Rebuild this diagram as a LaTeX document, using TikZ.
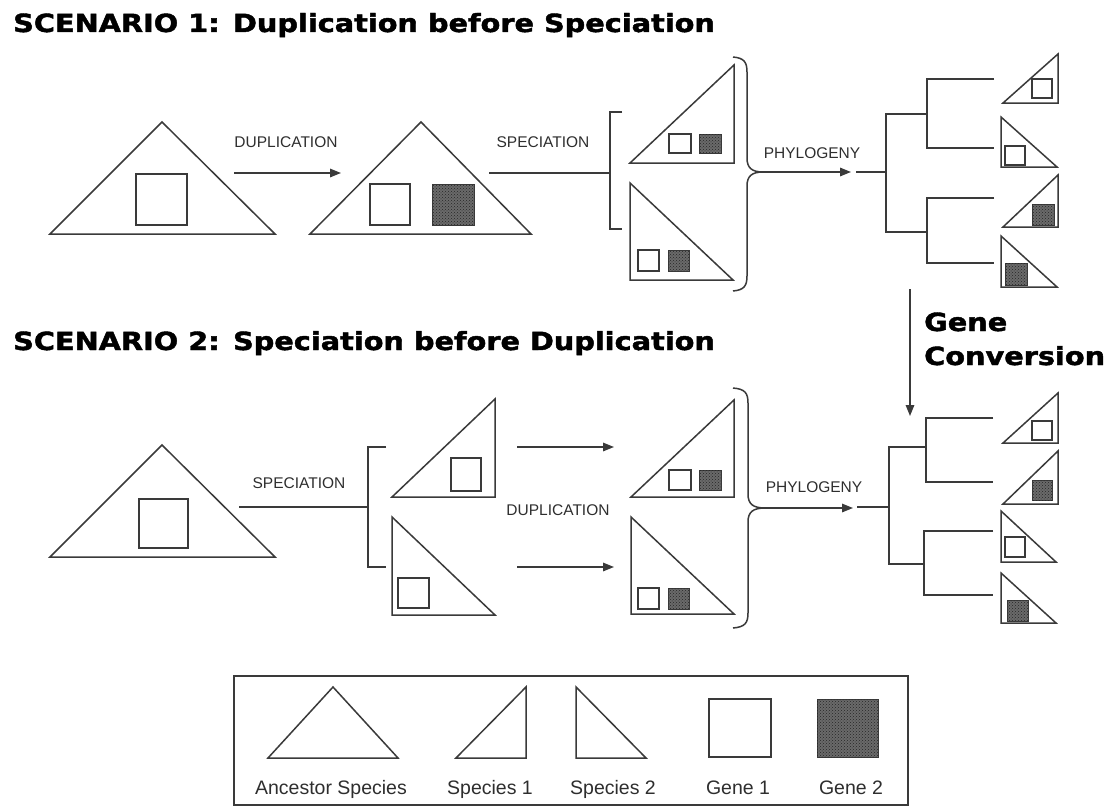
\documentclass[tikz,border=0pt]{standalone}
\usepackage{fontspec}
\setmainfont{Liberation Sans}
\newfontfamily\heavyfont{DejaVu Sans}[BoldFeatures={FakeBold=1.6}]
\usepackage{graphicx}
\usetikzlibrary{arrows.meta,patterns}
\definecolor{inkline}{HTML}{3A3A3A}
\definecolor{inktext}{HTML}{2E2E2E}
\definecolor{genefill}{HTML}{6A6A6A}
\tikzset{
  outline/.style={draw=inkline, line width=1.5pt, line join=miter},
  geneone/.style={draw=inkline, line width=1.3pt, fill=white},
  genetwo/.style={draw=inkline, line width=0.8pt, fill=genefill,
    postaction={pattern=crosshatch dots, pattern color=black!85}},
  link/.style={draw=inkline, line width=1.5pt},
  flow/.style={link, -{Triangle[length=11pt,width=8.5pt]}},
  steplabel/.style={font=\fontsize{15.5}{18}\selectfont, text=inktext, inner sep=0pt},
  keylabel/.style={font=\fontsize{19.5}{22}\selectfont, text=inktext, inner sep=0pt, anchor=base},
  heading/.style={inner sep=0pt, anchor=base west},
}
\newcommand{\headtext}[1]{\scalebox{1.15}[1]{\heavyfont\bfseries\fontsize{25}{30}\selectfont #1}}
\begin{document}
\begin{tikzpicture}[x=1pt,y=-1pt]
\useasboundingbox (0,0) rectangle (1114,808);
\fill[white] (0,0) rectangle (1114,808);

% ---------------- headings ----------------
\node[heading] (head1) at (13,32) {\headtext{SCENARIO 1: Duplication before Speciation}};
\node[heading] (head2) at (13,350) {\headtext{SCENARIO 2: Speciation before Duplication}};
\node[heading] (gc1) at (924,331) {\headtext{Gene}};
\node[heading] (gc2) at (924,365) {\headtext{Conversion}};

% ================= Scenario 1 =================
% ancestor species with one gene
\draw[outline] (50,234) -- (275,234) -- (162,122) -- cycle;
\draw[geneone] (136,174) rectangle (187,225);
\coordinate (a1out) at (234,173);
\coordinate (d1in) at (341,173);
\draw[flow] (a1out) -- (d1in);
\node[steplabel] (lab1) at (286,142) {DUPLICATION};

% ancestor after duplication
\draw[outline] (310,234) -- (531,234) -- (421,122) -- cycle;
\draw[geneone] (370,184) rectangle (410,225);
\draw[genetwo] (432,184) rectangle (474,225);
\coordinate (d1out) at (489,173);
\coordinate (br1) at (610,173);
\draw[link] (d1out) -- (br1);
\draw[link] (622,112) -- (610,112) -- (610,229) -- (622,229);
\node[steplabel] (lab2) at (543,142) {SPECIATION};

% species 1 and species 2, both carrying two genes
\draw[outline] (630,163) -- (734,163) -- (734,65) -- cycle;
\draw[geneone] (669,134) rectangle (691,153);
\draw[genetwo] (699,134) rectangle (721,153);
\draw[outline] (630,183) -- (630,280) -- (733,280) -- cycle;
\draw[geneone] (638,250) rectangle (659,271);
\draw[genetwo] (668,250) rectangle (689,271);

% curly brace and phylogeny arrow
\coordinate (tip1) at (763,172);
\draw[link] (733,57) .. controls (744,58) and (747,62) .. (747,72) -- (747,158)
  .. controls (747,168) and (752,172) .. (tip1)
  .. controls (752,172) and (747,176) .. (747,186) -- (747,276)
  .. controls (747,286) and (744,290) .. (733,291);
\coordinate (p1end) at (851,172);
\draw[flow] (tip1) -- (p1end);
\node[steplabel] (lab3) at (812,153) {PHYLOGENY};

% gene tree of scenario 1
\coordinate (root1in) at (856,172);
\coordinate (root1) at (886,172);
\draw[link] (root1in) -- (root1);
\draw[link] (927,114) -- (886,114) -- (886,232) -- (927,232);
\draw[link] (994,79) -- (927,79) -- (927,148) -- (994,148);
\draw[link] (994,198) -- (927,198) -- (927,263) -- (994,263);

% leaves of scenario 1
\draw[outline] (1003,103) -- (1058,103) -- (1058,54) -- cycle;
\draw[geneone] (1032,79) rectangle (1052,98);
\draw[outline] (1001,117) -- (1001,167) -- (1057,167) -- cycle;
\draw[geneone] (1005,146) rectangle (1025,165);
\draw[outline] (1003,227) -- (1058,227) -- (1058,175) -- cycle;
\draw[genetwo] (1032,204) rectangle (1054,225);
\draw[outline] (1001,236) -- (1001,287) -- (1057,287) -- cycle;
\draw[genetwo] (1005,263) rectangle (1027,285);

% gene conversion arrow
\coordinate (gcstart) at (910,289);
\coordinate (gcend) at (910,416);
\draw[flow] (gcstart) -- (gcend);

% ================= Scenario 2 =================
% ancestor species
\draw[outline] (50,557) -- (275,557) -- (162,445) -- cycle;
\draw[geneone] (139,499) rectangle (188,548);
\coordinate (a2out) at (239,507);
\coordinate (br2) at (368,507);
\draw[link] (a2out) -- (br2);
\draw[link] (386,447) -- (368,447) -- (368,567) -- (386,567);
\node[steplabel] (lab4) at (299,483) {SPECIATION};

% species 1 and species 2 with one gene each
\draw[outline] (392,497) -- (495,497) -- (495,399) -- cycle;
\draw[geneone] (451,458) rectangle (481,491);
\draw[outline] (392,517) -- (392,615) -- (495,615) -- cycle;
\draw[geneone] (398,578) rectangle (429,608);

% duplication in each species
\coordinate (u2s) at (517,447);
\coordinate (u2e) at (614,447);
\coordinate (l2s) at (517,567);
\coordinate (l2e) at (614,567);
\draw[flow] (u2s) -- (u2e);
\draw[flow] (l2s) -- (l2e);
\node[steplabel] (lab5) at (558,510) {DUPLICATION};

% species after duplication
\draw[outline] (631,497) -- (734,497) -- (734,400) -- cycle;
\draw[geneone] (669,470) rectangle (691,490);
\draw[genetwo] (699,470) rectangle (721,490);
\draw[outline] (631,517) -- (631,614) -- (734,614) -- cycle;
\draw[geneone] (638,588) rectangle (659,609);
\draw[genetwo] (668,588) rectangle (689,609);

% curly brace and phylogeny arrow
\coordinate (tip2) at (765,508);
\draw[link] (733,388) .. controls (745,389) and (748,393) .. (748,403) -- (748,494)
  .. controls (748,504) and (753,508) .. (tip2)
  .. controls (753,508) and (748,512) .. (748,522) -- (748,613)
  .. controls (748,623) and (745,627) .. (733,628);
\coordinate (p2end) at (853,508);
\draw[flow] (tip2) -- (p2end);
\node[steplabel] (lab6) at (814,487) {PHYLOGENY};

% gene tree of scenario 2
\coordinate (root2in) at (857,507);
\coordinate (root2) at (889,507);
\draw[link] (root2in) -- (root2);
\draw[link] (926,447) -- (889,447) -- (889,564) -- (924,564);
\draw[link] (993,418) -- (926,418) -- (926,482) -- (993,482);
\draw[link] (993,531) -- (924,531) -- (924,595) -- (993,595);

% leaves of scenario 2
\draw[outline] (1003,443) -- (1058,443) -- (1058,393) -- cycle;
\draw[geneone] (1032,421) rectangle (1052,440);
\draw[outline] (1003,504) -- (1058,504) -- (1058,451) -- cycle;
\draw[genetwo] (1032,480) rectangle (1052,500);
\draw[outline] (1001,511) -- (1001,562) -- (1056,562) -- cycle;
\draw[geneone] (1005,537) rectangle (1025,557);
\draw[outline] (1001,573) -- (1001,623) -- (1056,623) -- cycle;
\draw[genetwo] (1007,600) rectangle (1028,621);

% ================= key =================
\draw[draw=inkline, line width=1.5pt] (234,676) rectangle (908,805);
\draw[outline] (268,758) -- (398,758) -- (333,687) -- cycle;
\draw[outline] (456,758) -- (526,758) -- (526,687) -- cycle;
\draw[outline] (576,687) -- (576,758) -- (646,758) -- cycle;
\draw[geneone] (709,699) rectangle (771,757);
\draw[genetwo] (817,699) rectangle (878,757);
\node[keylabel] (k1) at (331,794) {Ancestor Species};
\node[keylabel] (k2) at (490,794) {Species 1};
\node[keylabel] (k3) at (613,794) {Species 2};
\node[keylabel] (k4) at (738,794) {Gene 1};
\node[keylabel] (k5) at (851,794) {Gene 2};
\end{tikzpicture}
\end{document}
